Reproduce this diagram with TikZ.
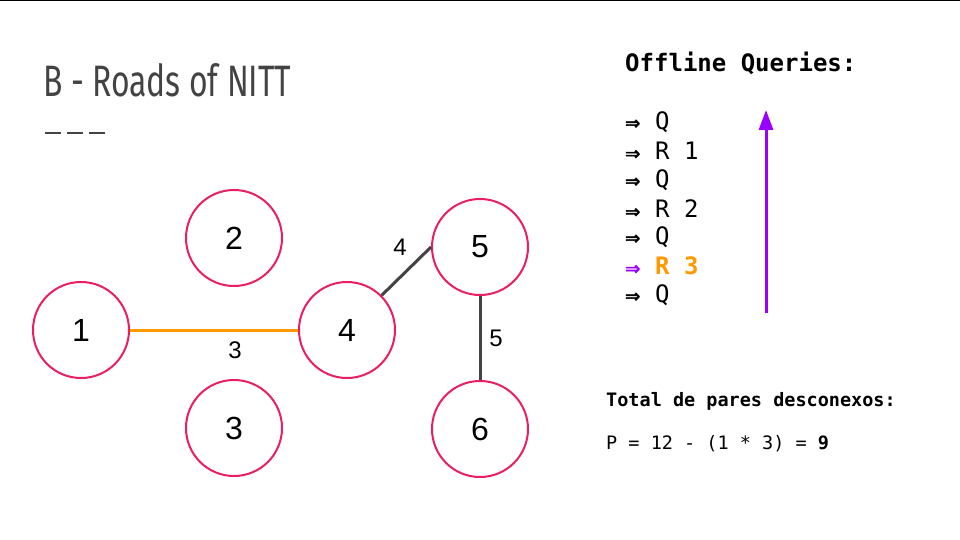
\documentclass[tikz,border=0pt]{standalone}
\usepackage{graphicx}
\usepackage{fontspec}
\setmainfont{Liberation Sans}
\newfontfamily\monofont{DejaVu Sans Mono}
\newfontfamily\titlefont{Fira Sans}
\newfontfamily\arrowfont[FakeBold=3]{DejaVu Sans}
\usetikzlibrary{arrows.meta}
\definecolor{vertexred}{HTML}{E91E63}
\definecolor{roadorange}{HTML}{FF9900}
\definecolor{roadgray}{HTML}{434343}
\definecolor{querypurple}{HTML}{9900FF}
\newcommand{\qarrow}{\makebox[30pt][l]{\arrowfont\fontsize{18}{20}\selectfont ⇒}}

\begin{document}
\begin{tikzpicture}[x=1pt, y=-1pt,
  vertex/.style={circle, draw=vertexred, line width=2pt, minimum size=96pt, inner sep=0pt, font=\fontsize{32}{36}\selectfont},
  road/.style={line width=3pt, roadgray},
  weight/.style={inner sep=0pt, font=\fontsize{24}{27}\selectfont},
  query/.style={anchor=west, inner sep=0pt, font=\monofont\fontsize{24}{28}\selectfont}]
\useasboundingbox (0,0) rectangle (960,540);
\draw[line width=1.5pt] (0,0.75) -- (960,0.75);

% title
\node[anchor=base west, inner sep=0pt, text=roadgray] (title) at (43,97) {\resizebox{248pt}{33pt}{\titlefont B - Roads of NITT}};
\draw[roadgray, line width=2pt, dash pattern=on 16pt off 6pt] (45,133) -- (105,133);

% graph
\node[vertex] (n1) at (81,330) {1};
\node[vertex] (n2) at (234,238) {2};
\node[vertex] (n3) at (234,428) {3};
\node[vertex] (n4) at (347,330) {4};
\node[vertex] (n5) at (480,247) {5};
\node[vertex] (n6) at (480,429) {6};

\draw[roadorange, line width=3pt] (n1.east) -- (n4.west);
\draw[road] (n4.north east) -- (n5.west);
\draw[road] (n5.south) -- (n6.north);

\node[weight] (w14) at (235,350) {3};
\node[weight] (w45) at (400,247) {4};
\node[weight] (w56) at (496,338) {5};

% offline queries
\node[query] (qhead) at (625,63) {\bfseries Offline Queries:};
\node[query] (q1) at (625,122) {\qarrow Q};
\node[query] (q2) at (625,151) {\qarrow R 1};
\node[query] (q3) at (625,180) {\qarrow Q};
\node[query] (q4) at (625,209) {\qarrow R 2};
\node[query] (q5) at (625,237) {\qarrow Q};
\node[query] (q6) at (625,266) {\textcolor{querypurple}{\qarrow}\textcolor{roadorange}{\bfseries R 3}};
\node[query] (q7) at (625,295) {\qarrow Q};

\coordinate (qlow) at (766,313);
\coordinate (qhigh) at (766,110);
\draw[querypurple, line width=3pt, -{Triangle[width=14pt,length=20pt]}] (qlow) -- (qhigh);

% result
\node[query, font=\monofont\fontsize{18.5}{22}\selectfont] (total) at (606,401) {\bfseries Total de pares desconexos:};
\node[query, font=\monofont\fontsize{18.5}{22}\selectfont] (pairs) at (606,444) {P = 12 - (1 * 3) = \textbf{9}};
\end{tikzpicture}
\end{document}
